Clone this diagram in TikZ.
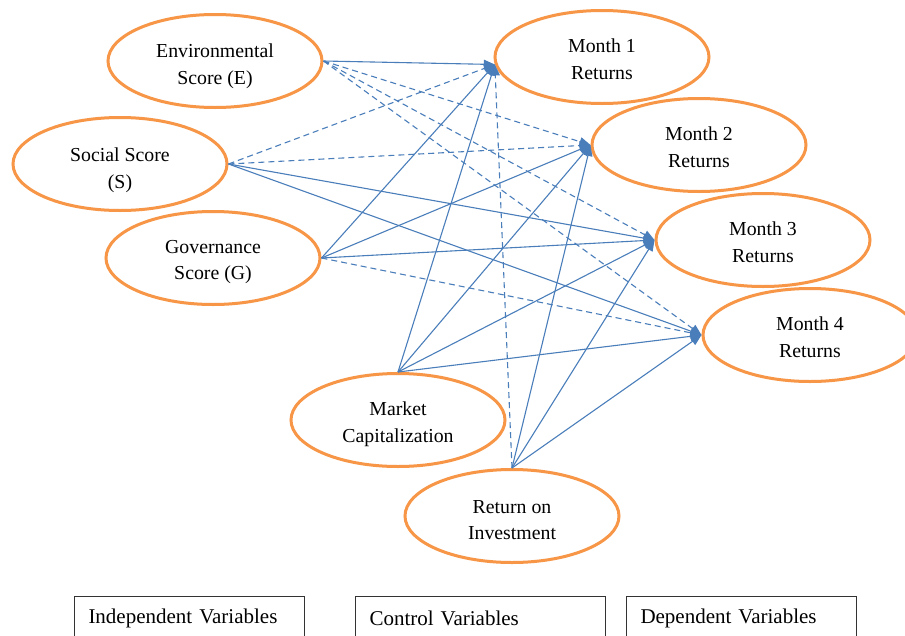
\documentclass[tikz,border=0pt]{standalone}
\usepackage{fontspec}
\setmainfont{Liberation Serif}
\usetikzlibrary{shapes.geometric,arrows.meta}
\definecolor{ellorange}{RGB}{247,150,70}
\definecolor{arrblue}{RGB}{74,126,187}
\tikzset{
  var/.style={ellipse, draw=ellorange, line width=3pt, inner sep=0pt,
    minimum width=214pt, minimum height=93pt},
  vtext/.style={align=center, inner sep=0pt, font=\fontsize{19.8}{26.5}\selectfont},
  link/.style={draw=arrblue, line width=1.1pt, -{Triangle[length=11pt,width=9pt]}, arrblue},
  dlink/.style={link, dash pattern=on 6pt off 4pt},
  legendbox/.style={draw=black!80, line width=1pt, minimum height=44pt, inner xsep=14pt,
    align=left, font=\fontsize{21}{25}\selectfont}
}
\begin{document}
\begin{tikzpicture}[x=1pt,y=-1pt]
\useasboundingbox (0,0) rectangle (905,635);
\clip (0,0) rectangle (905,635);
\fill[white] (0,0) rectangle (905,635);
% independent variables
\node[var, label={[vtext, yshift=-5pt]center:{Environmental\\Score (E)}}] (E) at (215,61) {};
\node[var, label={[vtext, yshift=-6pt]center:{Social Score\\(S)}}] (S) at (120,164) {};
\node[var, label={[vtext, yshift=-4pt]center:{Governance\\Score (G)}}] (G) at (213,258) {};
% control variables
\node[var, label={[vtext, yshift=-4pt]center:{Market\\Capitalization}}] (MC) at (398,420) {};
\node[var, label={[vtext, yshift=-4pt]center:{Return on\\Investment}}] (ROI) at (512,516) {};
% dependent variables
\node[var, label={[vtext, yshift=-2pt]center:{Month 1\\Returns}}] (M1) at (602,57) {};
\node[var, label={[vtext, yshift=-2pt]center:{Month 2\\Returns}}] (M2) at (699,145) {};
\node[var, label={[vtext, yshift=-2pt]center:{Month 3\\Returns}}] (M3) at (763,240) {};
\node[var, label={[vtext, yshift=-2pt]center:{Month 4\\Returns}}] (M4) at (810,335) {};
% connectors
\draw[link]  (E.east) -- (M1.184);
\draw[dlink] (E.east) -- (M2.west);
\draw[dlink] (E.east) -- (M3.west);
\draw[dlink] (E.east) -- (M4.west);
\draw[dlink] (S.east) -- (M1.184);
\draw[dlink] (S.east) -- (M2.west);
\draw[link]  (S.east) -- (M3.west);
\draw[link]  (S.east) -- (M4.west);
\draw[link]  (G.east) -- (M1.184);
\draw[link]  (G.east) -- (M2.west);
\draw[link]  (G.east) -- (M3.west);
\draw[dlink] (G.east) -- (M4.west);
\draw[link]  (MC.north) -- (M1.184);
\draw[link]  (MC.north) -- (M2.west);
\draw[link]  (MC.north) -- (M3.west);
\draw[link]  (MC.north) -- (M4.west);
\draw[dlink] (ROI.north) -- (M1.184);
\draw[link]  (ROI.north) -- (M2.west);
\draw[link]  (ROI.north) -- (M3.west);
\draw[link]  (ROI.north) -- (M4.west);
% legend boxes
\node[legendbox, anchor=north west, text width=202pt] (LI) at (74,596) {Independent Variables};
\node[legendbox, anchor=north west, text width=222pt] (LC) at (355,596) {Control Variables};
\node[legendbox, anchor=north west, text width=202pt] (LD) at (626,596) {Dependent Variables};
\end{tikzpicture}
\end{document}
